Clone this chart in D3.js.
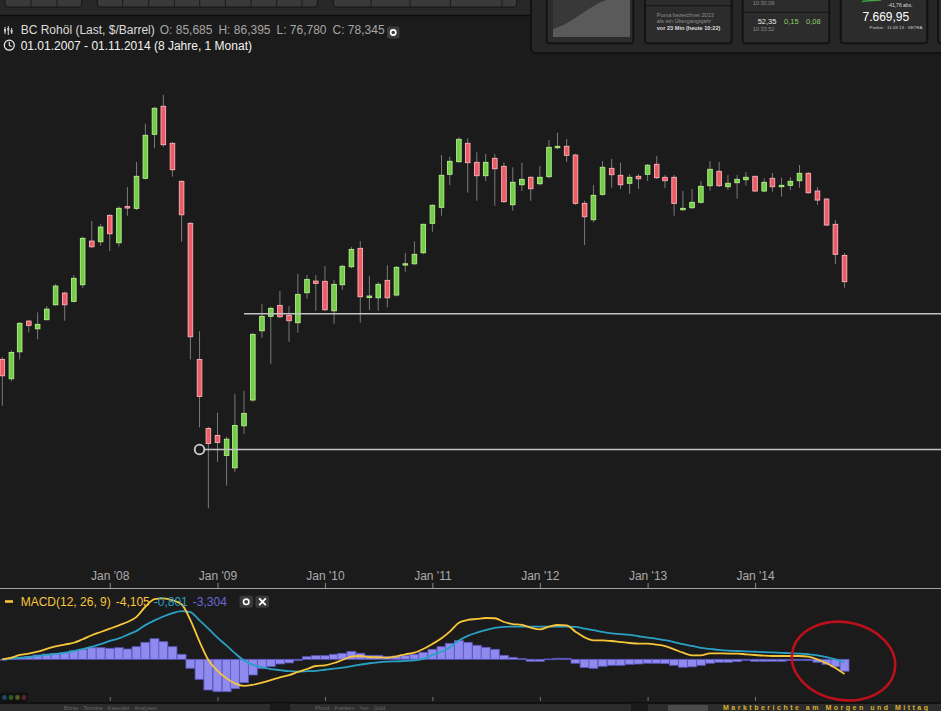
<!DOCTYPE html>
<html>
<head>
<meta charset="utf-8">
<script src="https://cdn.jsdelivr.net/npm/d3@7"></script>
<style>
  html, body { margin: 0; padding: 0; background: #1c1b1b; overflow: hidden; }
  svg { display: block; font-family: "Liberation Sans", Arial, sans-serif; }
</style>
</head>
<body>
<div id="chart"></div>
<script>
// monthly candles, Jan 2007 .. Nov 2014
const months = d3.timeMonth.range(new Date(2007, 0, 1), new Date(2014, 11, 1));

const open = [60.12, 56.29, 61.70, 68.51, 66.73, 68.83, 72.42, 75.37, 73.27, 77.54,
  89.98, 89.77, 98.22, 89.46, 101.2, 100.59, 111.43, 129.45, 142.41, 125.54,
  110.29, 95.58, 60.12, 47.52, 46.40, 43.35, 41.55, 47.95, 52.35, 66.28,
  69.62, 72.27, 69.86, 68.12, 75.45, 78.51, 78.44, 70.95, 77.54, 82.44,
  87.77, 74.22, 74.17, 78.70, 74.86, 82.91, 83.28, 86.47, 95.58, 100.94,
  112.96, 117.91, 125.54, 117.66, 112.42, 119.28, 116.07, 101.83, 109.02, 111.81,
  109.39, 112.03, 123.66, 124.27, 120.63, 102.32, 96.76, 105.51, 115.28, 112.58,
  109.55, 112.19, 112.96, 116.87, 111.81, 111.81, 100.11, 100.80, 102.67, 108.65,
  114.12, 108.28, 109.77, 110.89, 112.19, 106.70, 111.43, 108.28, 108.79, 110.52,
  113.34, 106.70, 103.83, 95.26, 85.685];

const high = [60.6, 62.0, 68.3, 68.75, 70.57, 72.10, 77.72, 75.7, 80.14, 91.3,
  96.33, 95.35, 98.6, 101.29, 108.16, 117.79, 134.21, 142.22, 148.0, 126.0,
  110.6, 96.0, 66.21, 47.8, 50.12, 46.2, 53.41, 53.97, 65.8, 72.60,
  71.94, 75.89, 72.10, 80.42, 80.14, 80.14, 82.65, 78.78, 83.0, 88.16,
  89.98, 79.86, 78.25, 82.84, 82.65, 86.38, 89.89, 95.5, 102.0, 120.63,
  119.93, 128.13, 127.69, 121.75, 121.04, 121.04, 117.66, 115.69, 117.51, 112.29,
  116.19, 126.95, 130.15, 127.40, 121.16, 103.24, 108.91, 118.19, 119.00, 117.51,
  113.08, 113.08, 116.99, 120.21, 112.68, 112.68, 106.70, 107.44, 110.40, 118.19,
  117.79, 112.68, 112.68, 113.84, 112.4, 111.43, 113.46, 111.64, 111.81, 116.58,
  113.84, 108.16, 104.19, 96.66, 86.395];

const low = [51.33, 55.8, 60.12, 65.92, 64.37, 68.7, 72.2, 68.59, 73.0, 76.74,
  87.8, 88.56, 86.97, 88.25, 98.09, 100.0, 111.0, 123.42, 124.10, 112.03,
  89.77, 60.12, 47.69, 36.20, 42.42, 39.09, 40.99, 46.65, 52.04, 64.72,
  59.17, 69.2, 63.84, 65.83, 73.92, 70.95, 70.88, 67.88, 76.23, 82.0,
  68.12, 71.13, 70.95, 71.79, 74.5, 81.05, 82.9, 86.0, 92.88, 98.09,
  108.91, 117.5, 106.08, 103.24, 110.40, 101.48, 102.5, 99.77, 106.70, 103.24,
  108.8, 111.5, 123.0, 117.79, 101.8, 88.77, 95.90, 105.0, 107.91, 107.44,
  105.62, 107.44, 110.40, 111.2, 107.79, 98.09, 99.8, 100.36, 102.3, 106.80,
  108.2, 107.07, 103.94, 108.65, 106.45, 106.33, 106.45, 104.66, 107.07, 107.91,
  105.7, 101.73, 94.7, 83.21, 76.78];

const close = [56.86, 61.57, 67.98, 67.51, 67.75, 71.36, 77.19, 72.42, 79.25, 90.82,
  88.25, 94.38, 92.25, 100.59, 100.7, 112.19, 129.02, 141.45, 124.95, 114.74,
  98.41, 64.94, 53.00, 45.15, 45.31, 45.81, 48.01, 50.02, 65.47, 69.62,
  71.54, 69.52, 68.59, 75.03, 78.97, 77.91, 71.20, 77.64, 82.56, 87.47,
  74.43, 74.61, 77.64, 74.17, 82.27, 83.28, 86.00, 95.26, 101.63, 112.58,
  118.07, 127.26, 117.51, 112.42, 117.66, 115.12, 102.89, 109.92, 111.04, 107.54,
  111.81, 123.84, 124.27, 120.51, 102.32, 97.75, 105.15, 115.69, 112.81, 109.02,
  111.81, 111.26, 116.51, 111.64, 110.52, 102.32, 100.59, 102.67, 108.43, 114.90,
  108.65, 109.55, 111.04, 111.81, 106.70, 109.92, 108.28, 108.79, 110.29, 113.34,
  106.08, 103.47, 95.03, 86.00, 78.345];

// MACD(12, 26, 9)
const macdLine = [0, 0.44, 1.2, 1.6, 2.1, 2.9, 3.6, 4.1, 4.6, 5.56,
  6.67, 7.58, 8.5, 9.44, 10.36, 11.8, 14.6, 16.7, 16.9, 16.4,
  15.3, 10.9, 4.9, -0.2, -3.2, -5.3, -6.7, -7.4, -7.1, -6.5,
  -5.8, -5.0, -4.4, -3.5, -2.7, -1.86, -1.67, -1.03, -0.19, 0.72,
  0.92, 0.64, 0.55, 0.46, 0.83, 1.39, 1.83, 2.86, 4.25, 5.83,
  7.67, 10.17, 10.92, 11.2, 11.47, 11.4, 10.36, 9.8, 9.53, 8.8,
  8.33, 9.05, 9.53, 9.44, 7.67, 6.1, 5.28, 5.28, 5.08, 4.8,
  4.53, 4.33, 4.33, 4.06, 3.69, 2.78, 1.83, 1.1, 1.1, 1.67,
  1.67, 1.58, 1.58, 1.39, 1.19, 1.0, 0.92, 0.92, 0.92, 0.92,
  0.72, 0.0, -1.1, -2.4, -4.105];

const signalLine = [0, 0.19, 0.46, 0.65, 0.93, 1.2, 1.48, 1.85, 2.25, 2.8,
  3.5, 4.2, 5.1, 5.8, 6.8, 7.9, 9.5, 10.8, 11.9, 12.8,
  13.4, 13.1, 10.8, 8.5, 6.0, 3.8, 1.7, -0.3, -1.5, -2.2,
  -2.7, -3.0, -3.3, -3.4, -3.3, -3.2, -2.9, -2.6, -2.3, -1.9,
  -1.5, -1.1, -0.83, -0.65, -0.56, -0.46, -0.28, 0.1, 1.2, 2.1,
  3.3, 5.2, 6.5, 7.4, 8.1, 8.7, 9.0, 9.1, 9.1, 9.1,
  9.1, 9.1, 9.1, 9.1, 9.0, 8.5, 8.1, 7.6, 7.2, 7.0,
  6.8, 6.4, 6.0, 5.7, 5.3, 4.8, 4.2, 3.7, 3.2, 2.9,
  2.6, 2.4, 2.3, 2.2, 2.1, 2.0, 1.9, 1.8, 1.7, 1.6,
  1.4, 1.1, 0.6, 0.0, -0.801];

const macdHist = [0, 0.28, 0.55, 0.72, 1.19, 1.47, 1.67, 1.83, 2.39, 2.78,
  3.22, 3.22, 3.06, 3.22, 2.86, 3.5, 4.72, 5.72, 4.89, 3.5,
  1.39, -2.5, -5.56, -8.53, -9.0, -9.0, -8.17, -6.5, -4.36, -2.6,
  -2.0, -1.3, -1.0, -0.3, 0.72, 1.0, 1.0, 1.39, 1.67, 2.22,
  1.67, 1.1, 1.1, 0.72, 0.9, 1.1, 1.39, 1.94, 2.78, 3.5,
  4.44, 5.17, 4.72, 3.89, 3.33, 2.78, 1.1, 0.55, 0.19, -0.55,
  -0.55, 0.1, 0.28, 0.28, -1.1, -2.3, -2.5, -1.94, -1.67, -1.67,
  -1.39, -1.3, -1.1, -1.1, -1.2, -1.67, -2.2, -2.1, -1.67, -1.1,
  -0.83, -0.83, -0.65, -0.28, -0.55, -0.55, -0.55, -0.55, -0.37, -0.28,
  -0.37, -0.83, -1.39, -2.1, -3.304];

const yearTicks = [2008, 2009, 2010, 2011, 2012, 2013, 2014];

// hand-drawn support lines: price level and the month they start at
const levelValues = [70.24, 44.23];
const levelStarts = [new Date(2009, 3, 1), new Date(2008, 10, 1)];

const width = 941;
const height = 711;

const svg = d3.select("#chart")
  .append("svg")
  .attr("width", width)
  .attr("height", height)
  .attr("viewBox", [0, 0, width, height]);

svg.append("rect").attr("width", width).attr("height", height).attr("fill", "#1c1b1b");

const x = d3.scaleTime()
  .domain([new Date(2007, 0, 1), new Date(2015, 0, 1)])
  .range([2.3, 862.5]);
const step = (x.range()[1] - x.range()[0]) / 96;

const y = d3.scaleLog()
  .domain([36.2, 147.5])
  .range([508.3, 96]);

const ym = d3.scaleLinear()
  .domain([-12, 18])
  .range([702.5, 594.5]);

const candles = months.map((d, i) => ({
  date: d, o: open[i], h: high[i], l: low[i], c: close[i],
  macd: macdLine[i], signal: signalLine[i], hist: macdHist[i]
}));

// ---- top toolbar (screenshot chrome)
const chrome = svg.append("g");
chrome.append("rect").attr("width", width).attr("height", 15).attr("fill", "#272727");
const groups = [[5, 81.7, [31, 57]], [97.3, 317.3, [122.7, 148.7, 174.3, 199.7, 225.3, 251, 276.7, 302]],
  [333.3, 516.7, [371, 410, 450.3, 502]]];
groups.forEach(([a, b, seps]) => {
  chrome.append("rect").attr("x", a).attr("y", -8).attr("width", b - a).attr("height", 15)
    .attr("rx", 3).attr("fill", "#3a3a3a").attr("stroke", "#151515");
  seps.forEach(s => chrome.append("line").attr("x1", s).attr("x2", s).attr("y1", -8).attr("y2", 7)
    .attr("stroke", "#1a1a1a"));
});
chrome.append("line").attr("x1", 0).attr("x2", width).attr("y1", 15.5).attr("y2", 15.5)
  .attr("stroke", "#0c0c0c").attr("stroke-width", 1.5);

// top right ticker tiles
const tiles = svg.append("g");
tiles.append("rect").attr("x", 531).attr("y", -10).attr("width", 420).attr("height", 63)
  .attr("rx", 5).attr("fill", "#262626").attr("stroke", "#0e0e0e").attr("stroke-width", 1.5);
[546.7, 645, 742.7, 840.7, 938].forEach(tx => {
  tiles.append("rect").attr("x", tx).attr("y", -6).attr("width", 86.6).attr("height", 49.3)
    .attr("rx", 3).attr("fill", "#2c2c2c").attr("stroke", "#121212").attr("stroke-width", 2);
});
tiles.append("path")
  .attr("d", "M553,37 L553,29 L565,24 L578,16 L590,8 L600,2 L606,0 L630,0 L630,37 Z")
  .attr("fill", "#5a5a5a");
tiles.append("path").attr("d", "M553,0 L606,0 L600,2 L590,8 L578,16 L565,24 L553,29 Z").attr("fill", "#383838");
tiles.append("line").attr("x1", 645).attr("x2", 731).attr("y1", 5.7).attr("y2", 5.7).attr("stroke", "#151515");
tiles.append("line").attr("x1", 743).attr("x2", 829).attr("y1", 12.3).attr("y2", 12.3).attr("stroke", "#151515");
const tinyText = (tx, ty, txt, size, fill, weight) => tiles.append("text")
  .attr("x", tx).attr("y", ty).attr("font-size", size).attr("fill", fill)
  .attr("font-weight", weight || "normal").text(txt);
tinyText(656.7, 16.5, "Puma bezeichnet 2013", 5.6, "#8e8e8e");
tinyText(656.7, 23.2, "als ein Übergangsjahr", 5.6, "#8e8e8e");
tinyText(656.7, 30.2, "vor 23 Min (heute 10:22)", 5.6, "#dcdcdc", "bold");
tinyText(752.7, 5, "10:30:09", 5.6, "#8a8a8a");
tinyText(757.7, 23.5, "52,35", 7.5, "#e8e8e8");
tinyText(784, 23.5, "0,15", 7.5, "#8fd16a");
tinyText(806, 23.5, "0,08", 7.5, "#8fd16a");
tinyText(752.7, 30.7, "10:33:52", 5.6, "#8a8a8a");
tiles.append("path").attr("d", "M862,1.5 L868,0.8 L874,0.5 L881,0").attr("stroke", "#3fa33f")
  .attr("stroke-width", 1.5).attr("fill", "none");
tinyText(887.5, 6.8, "-41,76 abs.", 5, "#dddddd");
tinyText(862.5, 20.5, "7.669,95", 12, "#ffffff");
tinyText(869.5, 28.5, "Punkte · 11.09.13 · XETRA", 4.4, "#cfcfcf");

// ---- header
const header = svg.append("g").attr("font-size", 12);
const icon = header.append("g").attr("stroke", "#cfcfcf").attr("stroke-width", 1.1);
[[5, 27, 34], [8.3, 26, 35], [11.6, 28, 34]].forEach(([ix, a, b]) => {
  icon.append("line").attr("x1", ix).attr("x2", ix).attr("y1", a).attr("y2", b);
  icon.append("rect").attr("x", ix - 1).attr("y", a + 2).attr("width", 2).attr("height", 2.5)
    .attr("fill", "#cfcfcf").attr("stroke", "none");
});
header.append("text").attr("x", 20.7).attr("y", 34)
  .call(t => t.append("tspan").attr("fill", "#dcdcdc").text("BC Rohöl (Last, $/Barrel)"))
  .call(t => t.append("tspan").attr("fill", "#a6a6a6").attr("dx", 5)
    .text("O: 85,685\u2002H: 86,395\u2002L: 76,780\u2002C: 78,345"));
header.append("rect").attr("x", 387).attr("y", 26.5).attr("width", 12.5).attr("height", 12)
  .attr("rx", 2).attr("fill", "#3c3c3c");
header.append("circle").attr("cx", 393.2).attr("cy", 32.5).attr("r", 2.6)
  .attr("fill", "none").attr("stroke", "#ffffff").attr("stroke-width", 1.6);
header.append("circle").attr("cx", 9.3).attr("cy", 45.2).attr("r", 5)
  .attr("fill", "none").attr("stroke", "#f0f0f0").attr("stroke-width", 1.2);
header.append("path").attr("d", "M9.3,41.8 L9.3,45.4 L11.6,46.6").attr("fill", "none")
  .attr("stroke", "#f0f0f0").attr("stroke-width", 1.1);
header.append("text").attr("x", 20.7).attr("y", 49.5).attr("fill", "#f2f2f2")
  .text("01.01.2007 - 01.11.2014 (8 Jahre, 1 Monat)");

// ---- candles
const candleG = svg.append("g");
candleG.append("g")
  .attr("stroke", "#7a7a7a")
  .attr("stroke-width", 1)
  .selectAll()
  .data(candles)
  .join("line")
  .attr("x1", d => x(d.date))
  .attr("x2", d => x(d.date))
  .attr("y1", d => y(d.h))
  .attr("y2", d => y(d.l));

candleG.append("g")
  .selectAll()
  .data(candles)
  .join("rect")
  .attr("x", d => x(d.date) - 2.3)
  .attr("width", 4.6)
  .attr("y", d => y(Math.max(d.o, d.c)))
  .attr("height", d => Math.max(1.2, Math.abs(y(d.o) - y(d.c))))
  .attr("fill", d => d.c >= d.o ? "#72cc48" : "#ec5c67")
  .attr("stroke", d => d.c >= d.o ? "#b4f08a" : "#ffb0b6")
  .attr("stroke-width", 0.9);

// ---- support lines and marker
const levelG = svg.append("g").attr("stroke", "#c4c4c4").attr("stroke-width", 1.4);
levelValues.forEach((v, i) => {
  levelG.append("line")
    .attr("x1", x(levelStarts[i]) + (i === 1 ? 5.5 : 0))
    .attr("x2", width)
    .attr("y1", y(v))
    .attr("y2", y(v));
});
svg.append("circle")
  .attr("cx", x(levelStarts[1]))
  .attr("cy", y(levelValues[1]))
  .attr("r", 4.8)
  .attr("fill", "#1c1b1b")
  .attr("stroke", "#d2d2d2")
  .attr("stroke-width", 1.8);

// ---- time axis between the panels
const tickDates = yearTicks.map(yr => new Date(yr, 0, 1));
svg.append("g")
  .attr("transform", "translate(0,588)")
  .call(d3.axisTop(x).tickValues(tickDates).tickFormat(d3.timeFormat("Jan '%y")).tickSize(5).tickPadding(3))
  .call(g => g.select(".domain").remove())
  .call(g => g.selectAll("line").attr("stroke", "#8a8a8a"))
  .call(g => g.selectAll("text").attr("fill", "#ababab").attr("font-size", 12)
    .attr("font-family", "Liberation Sans, Arial, sans-serif"));
svg.append("line").attr("x1", 0).attr("x2", width).attr("y1", 588.5).attr("y2", 588.5)
  .attr("stroke", "#a4a4a4").attr("stroke-width", 1);

svg.append("g")
  .attr("transform", "translate(0,701)")
  .call(d3.axisTop(x).tickValues(tickDates).tickFormat("").tickSize(4))
  .call(g => g.select(".domain").remove())
  .call(g => g.selectAll("line").attr("stroke", "#777"));

// ---- MACD panel
svg.append("g")
  .selectAll()
  .data(candles)
  .join("rect")
  .attr("x", d => x(d.date) - step / 2)
  .attr("width", step)
  .attr("y", d => ym(Math.max(0, d.hist)))
  .attr("height", d => Math.max(0.8, Math.abs(ym(d.hist) - ym(0))))
  .attr("fill", "#8e8aee")
  .attr("stroke", "#5a55bf")
  .attr("stroke-width", 0.8);

const lineMacd = d3.line().x(d => x(d.date)).y(d => ym(d.macd)).curve(d3.curveMonotoneX);
const lineSignal = d3.line().x(d => x(d.date)).y(d => ym(d.signal)).curve(d3.curveMonotoneX);

svg.append("path").datum(candles).attr("d", lineSignal)
  .attr("fill", "none").attr("stroke", "#2aa0c4").attr("stroke-width", 1.8);
svg.append("path").datum(candles).attr("d", lineMacd)
  .attr("fill", "none").attr("stroke", "#f7c53a").attr("stroke-width", 1.8);

// legend
const legend = svg.append("g").attr("font-size", 12);
legend.append("line").attr("x1", 5).attr("x2", 13).attr("y1", 601.5).attr("y2", 601.5)
  .attr("stroke", "#f7c53a").attr("stroke-width", 2.6);
legend.append("text").attr("x", 20.7).attr("y", 605.5)
  .call(t => t.append("tspan").attr("fill", "#f7c53a").text("MACD(12, 26, 9)"))
  .call(t => t.append("tspan").attr("fill", "#f7c53a").attr("dx", 5).text("-4,105"))
  .call(t => t.append("tspan").attr("fill", "#2aa0c4").attr("dx", 4).text("-0,801"))
  .call(t => t.append("tspan").attr("fill", "#6b68d6").attr("dx", 5).text("-3,304"));
[239.5, 255.5].forEach(bx => legend.append("rect").attr("x", bx).attr("y", 595.8)
  .attr("width", 13.5).attr("height", 12).attr("rx", 2).attr("fill", "#3a3a3a"));
legend.append("circle").attr("cx", 246.2).attr("cy", 601.8).attr("r", 2.7)
  .attr("fill", "none").attr("stroke", "#fff").attr("stroke-width", 1.6);
legend.append("path").attr("d", "M259.2,598.3 L265.8,605.2 M265.8,598.3 L259.2,605.2")
  .attr("stroke", "#fff").attr("stroke-width", 1.8);

// red annotation drawn around the latest MACD values
const last = candles[candles.length - 1];
svg.append("ellipse")
  .attr("cx", x(last.date) - 1)
  .attr("cy", ym(-0.5))
  .attr("rx", 5.8 * step)
  .attr("ry", ym(0) - ym(10.8))
  .attr("transform", `rotate(10 ${x(last.date) - 1} ${ym(-0.5)})`)
  .attr("fill", "none")
  .attr("stroke", "#c4101b")
  .attr("stroke-width", 2.6)
  .attr("opacity", 0.95);

// ---- bottom strip (screenshot chrome)
const bottom = svg.append("g");
bottom.append("rect").attr("x", 0).attr("y", 703).attr("width", width).attr("height", 8).attr("fill", "#2c2c2c");
bottom.append("line").attr("x1", 0).attr("x2", width).attr("y1", 703).attr("y2", 703)
  .attr("stroke", "#0b0b0b").attr("stroke-width", 1.5);
[[270, 290], [631, 648]].forEach(([a, b]) => bottom.append("rect").attr("x", a).attr("y", 703.5)
  .attr("width", b - a).attr("height", 8).attr("fill", "#1a1a1a"));
bottom.append("rect").attr("x", 0).attr("y", 692.5).attr("width", 28).attr("height", 9.5)
  .attr("rx", 2).attr("fill", "#121212");
["#1f4a6e", "#2e5a2e", "#5e5a26", "#5c2424"].forEach((c, i) => bottom.append("circle")
  .attr("cx", 4.5 + i * 6.5).attr("cy", 697.5).attr("r", 2.4).attr("fill", c));
bottom.append("text").attr("x", 64).attr("y", 709.5).attr("font-size", 5.5).attr("fill", "#6a6a6a")
  .text("Börse · Termine · Kalender · Analysen");
bottom.append("text").attr("x", 315).attr("y", 709.5).attr("font-size", 5.5).attr("fill", "#6a6a6a")
  .text("Pfund · Franken · Yen · Gold");
bottom.append("rect").attr("x", 668).attr("y", 705).attr("width", 40).attr("height", 6).attr("fill", "#4a4a4a");
bottom.append("text").attr("x", 723).attr("y", 710).attr("font-size", 7).attr("font-weight", "bold")
  .attr("fill", "#d8b230").attr("textLength", 205).text("Marktberichte am Morgen und Mittag");
</script>
</body>
</html>
